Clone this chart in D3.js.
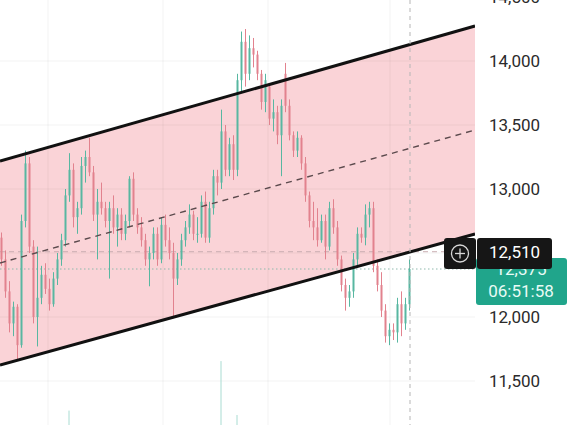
<!DOCTYPE html>
<html><head><meta charset="utf-8">
<script src="https://cdn.jsdelivr.net/npm/d3@7"></script>
<style>
html,body{margin:0;padding:0;background:#fff;overflow:hidden}
svg{display:block;font-family:Roboto,"Noto Sans",sans-serif}
</style></head>
<body>
<svg id="chart" width="573" height="425"></svg>
<script>
// ---- data ----
const opens  = [12620,12450,12200,11950,12080,11780,12750,13200,12550,12000,12150,12330,12220,12100,12300,12450,12600,12950,13150,12780,12850,13180,13250,13130,12800,12900,12850,12750,12850,12700,12800,12650,12750,13080,12800,12700,12600,12450,12500,12650,12450,12720,12600,12500,12300,12450,12600,12700,12800,12650,12650,12900,12620,12850,13100,13050,13450,13150,13350,13150,13850,14150,13900,14100,14050,13900,13680,13800,13550,13600,13420,13900,13650,13420,13300,13400,13200,12950,12750,12700,12600,12750,12550,12850,12700,12450,12250,12150,12200,12450,12650,12620,12800,12850,12400,12250,12050,11850,11900,11880,12100,11950,12100];
const highs  = [12660,12520,12280,12120,12100,12800,13300,13250,12600,12550,12400,12420,12300,12350,12500,12650,13000,13280,13200,12900,13250,13300,13400,13180,13000,13050,12900,12900,12950,12850,12850,12800,13100,13130,12850,12780,12650,12550,12700,12700,12780,12800,12700,12580,12500,12650,12750,12880,12830,12780,12950,12980,12900,13150,13150,13620,13500,13400,13420,13900,14230,14250,14200,14180,14080,13930,13900,13810,13700,13650,13700,13985,13700,13450,13450,13420,13250,12980,12900,12850,12800,12800,12900,12920,12750,12480,12300,12250,12500,12700,12700,12880,12900,12900,12450,12350,12100,11950,11950,12150,12200,12150,12450];
const lows   = [12400,12150,11880,11850,11670,11760,12700,12500,11950,11770,12100,12180,12050,12080,12250,12400,12550,12900,12700,12650,12800,13050,13100,12750,12450,12800,12700,12300,12650,12550,12600,12600,12700,12750,12650,12550,12400,12240,12450,12400,12420,12550,12450,11990,12250,12400,12550,12650,12600,12580,12620,12580,12580,12800,12950,13000,13100,13100,13070,13100,13750,13800,13850,13950,13850,13620,13600,13500,13450,13350,13100,13600,13380,13250,13250,13150,12900,12700,12600,12550,12580,12450,12520,12650,12400,12200,12050,12080,12150,12400,12580,12560,12700,12350,12200,12000,11800,11780,11820,11800,11850,11900,12050];
const closes = [12450,12200,11950,12080,11780,12750,13200,12550,12000,12150,12330,12220,12100,12300,12450,12600,12950,13150,12780,12850,13180,13250,13130,12800,12900,12850,12750,12850,12700,12800,12650,12750,13080,12800,12700,12600,12450,12500,12650,12450,12720,12600,12500,12300,12450,12600,12700,12800,12650,12650,12900,12620,12850,13100,13050,13450,13150,13350,13150,13850,14150,13900,14100,14050,13900,13680,13850,13550,13600,13420,13650,13650,13420,13300,13400,13200,12950,12750,12700,12600,12750,12550,12850,12700,12450,12250,12150,12200,12450,12650,12620,12800,12850,12400,12250,12050,11850,11900,11880,12100,11950,12100,12375];
const volumes = [22,18,25,20,30,28,35,30,22,20,18,15,16,18,17,20,26,54,30,20,24,18,25,22,20,16,15,22,18,15,14,15,20,22,16,14,15,18,15,16,17,15,14,30,20,16,15,17,14,15,18,22,18,25,30,99,32,25,22,50,35,30,26,22,20,25,20,22,18,20,30,25,22,18,16,18,25,22,18,16,15,18,20,18,20,22,25,18,20,22,16,18,18,25,22,24,30,20,18,25,20,18,28];
const priceTicks = [11500,12000,12500,13000,13500,14000,14500];
const timeGrid = [11.75,40.5,66.75,97.25];
const channelUpper = [[-0.25,13219],[118.5,14273]];
const channelLower = [[-0.25,11625],[118.5,12648]];
const crossPrice = 12510;
const lastPrice = 12375;
const countdown = "06:51:58";

// ---- scales ----
const svg = d3.select("#chart");
const W = 573, H = 425, plotR = 475;
const x = d3.scaleLinear().domain([0, opens.length-1]).range([1, 409]);
const y = d3.scaleLinear().domain([11500, 14000]).range([381, 61]);
const vy = d3.scaleLinear().domain([0, 100]).range([470, 360]);

// channel fill
const poly = [channelUpper[0],channelUpper[1],channelLower[1],channelLower[0]];
svg.append("path")
  .attr("d", d3.line().x(d=>x(d[0])).y(d=>y(d[1]))(poly)+"Z")
  .attr("fill","#fad3d7");

// grid (drawn over fill, very faint)
svg.append("g").selectAll("line").data(priceTicks).join("line")
  .attr("x1",0).attr("x2",plotR).attr("y1",d=>y(d)).attr("y2",d=>y(d))
  .attr("stroke","#000").attr("stroke-opacity",0.05).attr("stroke-width",1);
svg.append("g").selectAll("line").data(timeGrid).join("line")
  .attr("x1",d=>x(d)).attr("x2",d=>x(d)).attr("y1",0).attr("y2",H)
  .attr("stroke","#000").attr("stroke-opacity",0.05).attr("stroke-width",1);

// volumes
const idx = d3.range(opens.length);
svg.append("g").selectAll("line").data(idx).join("line")
  .attr("x1",i=>x(i)).attr("x2",i=>x(i))
  .attr("y1",i=>vy(volumes[i])).attr("y2",vy(0))
  .attr("stroke",i=>closes[i]>=opens[i]?"#a9dcd2":"#f2bcc3").attr("stroke-width",1);

// crosshair + price lines
svg.append("line").attr("x1",0).attr("x2",444).attr("y1",y(crossPrice)).attr("y2",y(crossPrice))
  .attr("stroke","#c9aeb1").attr("stroke-width",1).attr("stroke-dasharray","5,4");
svg.append("line").attr("x1",0).attr("x2",476).attr("y1",y(lastPrice)).attr("y2",y(lastPrice))
  .attr("stroke","#8fb9ad").attr("stroke-width",1).attr("stroke-dasharray","1.5,2.5");

// candles
const up = "#58b7a1", dn = "#e2828e";
const cg = svg.append("g");
cg.selectAll("line.w").data(idx).join("line").attr("class","w")
  .attr("x1",i=>x(i)+0.5).attr("x2",i=>x(i)+0.5)
  .attr("y1",i=>y(highs[i])).attr("y2",i=>y(lows[i]))
  .attr("stroke",i=>closes[i]>=opens[i]?up:dn).attr("stroke-width",1);
cg.selectAll("rect").data(idx).join("rect")
  .attr("x",i=>x(i)-0.5).attr("width",2)
  .attr("y",i=>y(Math.max(opens[i],closes[i])))
  .attr("height",i=>Math.max(1,Math.abs(y(opens[i])-y(closes[i]))))
  .attr("fill",i=>closes[i]>=opens[i]?up:dn);

// channel lines
const ln = d3.line().x(d=>x(d[0])).y(d=>y(d[1]));
svg.append("path").attr("d",ln(channelUpper)).attr("stroke","#111").attr("stroke-width",3).attr("fill","none");
svg.append("path").attr("d",ln(channelLower)).attr("stroke","#111").attr("stroke-width",3).attr("fill","none");
const mid = [[channelUpper[0][0],(channelUpper[0][1]+channelLower[0][1])/2],[channelUpper[1][0],(channelUpper[1][1]+channelLower[1][1])/2]];
svg.append("path").attr("d",ln(mid)).attr("stroke","#5b4a4d").attr("stroke-width",1.4)
  .attr("stroke-dasharray","6,5").attr("fill","none");

// vertical crosshair
svg.append("line").attr("x1",x(102)+1).attr("x2",x(102)+1).attr("y1",0).attr("y2",H)
  .attr("stroke","#b5b5b5").attr("stroke-width",1).attr("stroke-dasharray","4,4");

// white axis area
svg.append("rect").attr("x",plotR).attr("y",0).attr("width",W-plotR).attr("height",H).attr("fill","#fff");

// axis
const axis = d3.axisRight(y).tickValues(priceTicks).tickFormat(d3.format(",")).tickSize(0).tickPadding(0);
const ag = svg.append("g").attr("transform","translate(489,0)").call(axis);
ag.select(".domain").remove();
ag.selectAll("text").attr("font-size",17).attr("fill","#2b2b2b").attr("font-family","Roboto, sans-serif");

// last price label (green)
svg.append("rect").attr("x",476).attr("y",258).attr("width",91).attr("height",47).attr("rx",3).attr("fill","#20a58b");
svg.append("text").attr("x",521).attr("y",y(lastPrice)).attr("dy","0.35em").attr("text-anchor","middle")
  .attr("font-size",17).attr("fill","#e9fbf6").text(d3.format(",")(lastPrice));
svg.append("text").attr("x",521).attr("y",291).attr("dy","0.35em").attr("text-anchor","middle")
  .attr("font-size",17).attr("fill","#e9fbf6").text(countdown);

// crosshair label (black)
svg.append("rect").attr("x",444).attr("y",238).attr("width",32).attr("height",31).attr("rx",3).attr("fill","#161616");
svg.append("rect").attr("x",477).attr("y",238).attr("width",75).attr("height",31).attr("rx",3).attr("fill","#161616");
svg.append("circle").attr("cx",460).attr("cy",253.5).attr("r",8.5).attr("fill","none").attr("stroke","#d8d8d8").attr("stroke-width",1.3);
svg.append("line").attr("x1",455).attr("x2",465).attr("y1",253.5).attr("y2",253.5).attr("stroke","#d8d8d8").attr("stroke-width",1.3);
svg.append("line").attr("x1",460).attr("x2",460).attr("y1",248.5).attr("y2",258.5).attr("stroke","#d8d8d8").attr("stroke-width",1.3);
svg.append("text").attr("x",514.5).attr("y",y(crossPrice)).attr("dy","0.35em").attr("text-anchor","middle")
  .attr("font-size",17).attr("fill","#fff").text(d3.format(",")(crossPrice));
</script>
</body></html>
